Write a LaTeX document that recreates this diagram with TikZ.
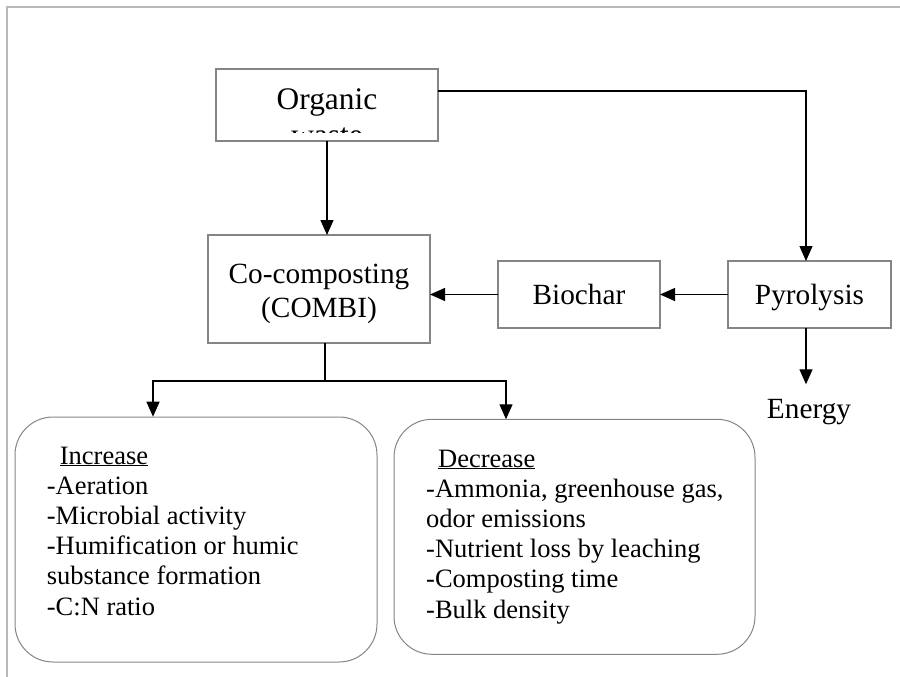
\documentclass[tikz,border=0pt]{standalone}
\usepackage{fontspec}
\setmainfont{Liberation Serif}
\usetikzlibrary{arrows.meta,calc}
\definecolor{boxgray}{HTML}{858585}
\definecolor{framegray}{HTML}{B8B8B8}
\newcommand{\bigfnt}{\fontsize{31.4}{34}\selectfont}
\newcommand{\midfnt}{\fontsize{29.3}{32}\selectfont}
\newcommand{\lstfnt}{\fontsize{26.5}{30.2}\selectfont}
\begin{document}
\begin{tikzpicture}[x=1pt,y=-1pt,
  boxstyle/.style={draw=boxgray, line width=1.2pt, inner sep=0pt, outer sep=0pt},
  roundbox/.style={draw=boxgray, line width=1pt, rounded corners=38pt},
  conn/.style={draw=black, line width=1.3pt},
  arr/.style={conn, -{Triangle[length=15pt,width=13pt]}},
  listtext/.style={anchor=base west, inner sep=0pt, font=\lstfnt},
  boxtext/.style={anchor=base, inner sep=0pt, font=\bigfnt},
  cctext/.style={anchor=base, inner sep=0pt, font=\midfnt}]
\useasboundingbox (0,0) rectangle (900,677);
% outer frame
\draw[framegray, line width=1.5pt] (7,677) -- (7,7) -- (900,7);

% boxes
\node[boxstyle, minimum width=222pt, minimum height=72pt] (org) at (327,105) {};
\begin{scope}
  \clip (216,69) rectangle (438,132);
  \node[boxtext] (orgt1) at (327,110) {Organic};
  \node[boxtext] (orgt2) at (327,145.5) {waste};
\end{scope}

\node[boxstyle, minimum width=222pt, minimum height=108pt] (cocomp) at (319,289) {};
\node[cctext] (cct1) at (319,283.3) {Co-composting};
\node[cctext] (cct2) at (319,317) {(COMBI)};

\node[boxstyle, minimum width=162pt, minimum height=67pt, font=\midfnt, text depth=0pt] (bio) at (579,294.5) {Biochar};
\node[boxstyle, minimum width=163pt, minimum height=67pt, font=\midfnt, text depth=0pt] (pyr) at (809.5,294.5) {Pyrolysis};
\node[anchor=base, inner sep=0pt, outer ysep=14.5pt, font=\midfnt] (energy) at (809,418) {Energy};

\node[roundbox, minimum width=362pt, minimum height=245pt] (inc) at (196,539.5) {};
\node[roundbox, minimum width=361pt, minimum height=235pt] (dec) at (574.5,536.8) {};

% list texts
\foreach \t [count=\i] in {{\hspace{13pt}\underline{Increase}},{-Aeration},{-Microbial activity},{-Humification or humic},{substance formation},{-C:N ratio}}
  \node[listtext] (incl\i) at (46.7,{464+30.2*(\i-1)}) {\t};
\foreach \t [count=\i] in {{\hspace{12pt}\underline{Decrease}},{-Ammonia, greenhouse gas,},{odor emissions},{-Nutrient loss by leaching},{-Composting time},{-Bulk density}}
  \node[listtext] (decl\i) at (426,{467+30.2*(\i-1)}) {\t};

% connectors
\coordinate (split) at (325,381);
\coordinate (incin) at (153,416.7);
\coordinate (decin) at (506,419.3);
\draw[arr] (org.south) -- (org.south |- cocomp.north);
\draw[arr] ([yshift=14pt]org.east) -| ([xshift=-3.5pt]pyr.north);
\draw[arr] (pyr.west) -- (bio.east);
\draw[arr] (bio.west) -- (bio.west -| cocomp.east);
\draw[arr] ([xshift=-3.5pt]pyr.south) -- ([xshift=-3.5pt]pyr.south |- energy.north);
\draw[conn] (split |- cocomp.south) -- (split);
\draw[arr] (split) -| (incin);
\draw[arr] (split) -| (decin);
\end{tikzpicture}
\end{document}
